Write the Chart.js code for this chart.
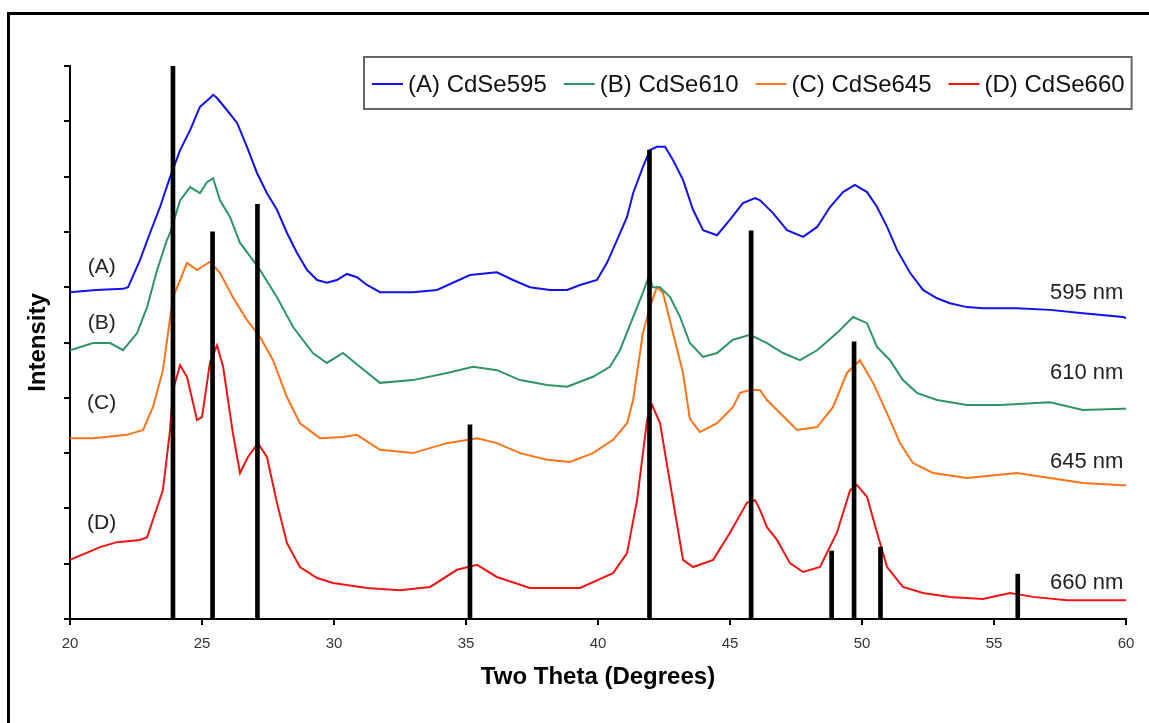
<!DOCTYPE html>
<html>
<head>
<meta charset="utf-8">
<script src="https://cdn.jsdelivr.net/npm/chart.js@4.4.1/dist/chart.umd.min.js"></script>
<style>
  html, body { margin: 0; padding: 0; background: #fff; overflow: hidden; }
  #wrap { position: relative; width: 1149px; height: 723px; }
  #frame { position: absolute; left: 7px; top: 12px; width: 2000px; height: 2000px;
           border-left: 3px solid #000; border-top: 3px solid #000; }
  #chart { position: absolute; left: 0; top: 0; }
</style>
</head>
<body>
<div id="wrap">
  <div id="frame"></div>
  <canvas id="chart" width="1149" height="723"></canvas>
</div>
<script>
/* ---------- data ---------- */
const seriesNames = ["(A) CdSe595", "(B) CdSe610", "(C) CdSe645", "(D) CdSe660"];
const curveTags = ["(A)", "(B)", "(C)", "(D)"];
const waveLabels = ["595 nm", "610 nm", "645 nm", "660 nm"];

const thetaA = [20.00, 20.98, 22.01, 22.20, 22.65, 23.03, 23.41, 23.79, 24.17, 24.55, 24.92, 25.30, 25.42, 25.57, 25.95,
  26.33, 26.70, 27.08, 27.46, 27.84, 28.22, 28.60, 28.98, 29.36, 29.73, 30.11, 30.49, 30.87, 31.25, 31.74,
  32.99, 33.90, 35.15, 36.17, 36.78, 37.42, 38.18, 38.83, 39.32, 39.96, 40.34, 40.72, 41.10, 41.33, 41.70,
  41.97, 42.23, 42.54, 42.84, 43.22, 43.60, 43.98, 44.51, 45.00, 45.49, 45.95, 46.14, 46.63, 47.16, 47.77,
  48.30, 48.79, 49.28, 49.73, 50.19, 50.57, 50.95, 51.33, 51.82, 52.31, 52.84, 53.33, 53.98, 54.58, 55.87,
  57.12, 58.37, 59.89, 60.00];
const intensityA = [5.91, 5.95, 5.97, 6.00, 6.49, 6.98, 7.45, 7.99, 8.48, 8.84, 9.26, 9.42, 9.48, 9.42, 9.20,
  8.97, 8.54, 8.07, 7.70, 7.40, 6.98, 6.62, 6.31, 6.13, 6.08, 6.13, 6.24, 6.18, 6.04, 5.91,
  5.91, 5.95, 6.22, 6.27, 6.13, 6.00, 5.95, 5.95, 6.04, 6.13, 6.44, 6.85, 7.27, 7.70, 8.17,
  8.48, 8.54, 8.54, 8.30, 7.94, 7.40, 7.03, 6.94, 7.22, 7.52, 7.61, 7.57, 7.34, 7.03, 6.91,
  7.09, 7.45, 7.72, 7.85, 7.72, 7.45, 7.09, 6.67, 6.26, 5.95, 5.80, 5.71, 5.64, 5.62, 5.62,
  5.59, 5.53, 5.46, 5.44];

const thetaB = [20.00, 20.87, 21.52, 22.01, 22.54, 22.92, 23.30, 23.67, 23.79, 24.17, 24.55, 24.92, 25.19, 25.42, 25.68,
  26.06, 26.44, 26.93, 27.20, 27.84, 28.45, 29.20, 29.73, 30.34, 30.98, 31.74, 32.99, 34.28, 35.27, 36.17,
  37.05, 38.07, 38.83, 39.81, 40.45, 40.83, 41.33, 41.70, 41.97, 42.05, 42.35, 42.73, 43.11, 43.48, 43.98,
  44.51, 45.11, 45.76, 46.40, 47.01, 47.65, 48.30, 49.05, 49.66, 50.19, 50.57, 51.06, 51.55, 52.08, 52.84,
  53.98, 55.23, 57.12, 58.37, 59.89, 60.00];
const intensityB = [4.86, 4.99, 4.99, 4.86, 5.17, 5.64, 6.31, 6.85, 6.98, 7.57, 7.81, 7.70, 7.90, 7.97, 7.57,
  7.27, 6.80, 6.49, 6.31, 5.82, 5.28, 4.81, 4.63, 4.81, 4.56, 4.27, 4.32, 4.45, 4.56, 4.50,
  4.32, 4.23, 4.20, 4.38, 4.56, 4.86, 5.46, 5.90, 6.26, 6.00, 6.00, 5.82, 5.46, 4.99, 4.74,
  4.81, 5.05, 5.14, 4.99, 4.81, 4.68, 4.86, 5.17, 5.46, 5.35, 4.92, 4.68, 4.32, 4.09, 3.96,
  3.87, 3.87, 3.92, 3.78, 3.80, 3.80];

const thetaC = [20.00, 20.87, 22.16, 22.77, 23.14, 23.52, 23.90, 24.17, 24.43, 24.81, 25.30, 25.68, 26.17, 26.70, 27.20,
  27.69, 28.22, 28.71, 29.47, 30.34, 30.87, 31.74, 32.99, 34.28, 35.42, 36.17, 37.05, 38.07, 38.94, 39.81,
  40.57, 41.10, 41.33, 41.70, 41.97, 42.23, 42.46, 42.84, 43.22, 43.48, 43.86, 44.51, 45.11, 45.38, 45.76,
  46.14, 46.40, 46.78, 47.54, 48.30, 48.90, 49.43, 49.92, 50.42, 51.06, 51.44, 51.93, 52.69, 53.98, 55.87,
  57.12, 58.37, 59.89, 60.00];
const intensityC = [3.27, 3.27, 3.33, 3.42, 3.83, 4.50, 5.82, 6.13, 6.44, 6.31, 6.46, 6.26, 5.82, 5.41, 5.10,
  4.68, 4.01, 3.54, 3.27, 3.29, 3.33, 3.06, 3.00, 3.18, 3.27, 3.18, 3.00, 2.88, 2.84, 3.00,
  3.24, 3.54, 3.96, 5.17, 5.64, 6.00, 5.90, 5.17, 4.45, 3.62, 3.38, 3.54, 3.83, 4.09, 4.14,
  4.14, 3.96, 3.78, 3.42, 3.47, 3.83, 4.45, 4.68, 4.27, 3.60, 3.18, 2.82, 2.64, 2.55, 2.64,
  2.55, 2.46, 2.42, 2.42];

const thetaD = [20.00, 21.14, 21.78, 22.65, 22.92, 23.14, 23.52, 23.79, 23.90, 24.17, 24.43, 24.81, 25.00, 25.30, 25.57,
  25.80, 26.17, 26.44, 26.74, 27.12, 27.46, 27.84, 28.22, 28.71, 29.36, 29.96, 31.25, 32.50, 33.64, 34.66,
  35.42, 36.17, 37.42, 39.32, 40.57, 41.10, 41.48, 41.86, 42.05, 42.35, 42.73, 43.22, 43.60, 44.36, 45.00,
  45.64, 45.95, 46.14, 46.40, 46.78, 47.27, 47.77, 48.41, 49.05, 49.55, 49.81, 50.19, 50.57, 50.95, 51.55,
  52.31, 53.33, 54.58, 55.61, 56.48, 57.77, 59.89, 60.00];
const intensityD = [1.07, 1.30, 1.39, 1.43, 1.48, 1.79, 2.33, 3.42, 4.14, 4.59, 4.38, 3.60, 3.65, 4.63, 4.95,
  4.56, 3.36, 2.64, 2.93, 3.18, 2.93, 2.10, 1.37, 0.94, 0.74, 0.65, 0.56, 0.52, 0.58, 0.89,
  0.98, 0.76, 0.56, 0.56, 0.83, 1.19, 2.15, 3.60, 3.87, 3.54, 2.46, 1.07, 0.94, 1.07, 1.56,
  2.10, 2.15, 1.97, 1.66, 1.43, 1.01, 0.85, 0.94, 1.56, 2.33, 2.42, 2.21, 1.56, 0.94, 0.58,
  0.47, 0.40, 0.36, 0.47, 0.40, 0.34, 0.34, 0.34];

// reference stick pattern
const stickTheta = [23.9, 25.4, 27.1, 35.15, 41.95, 45.8, 48.85, 49.7, 50.7, 55.9];
const stickHeight = [10, 7.0, 7.5, 3.51, 8.48, 7.02, 1.23, 5.01, 1.3, 0.81];

const xTicks = [20, 25, 30, 35, 40, 45, 50, 55, 60];

/* ---------- build ---------- */
const colors = ["#1010f0", "#2e9466", "#ff7418", "#f01414"];
const thetas = [thetaA, thetaB, thetaC, thetaD];
const intensities = [intensityA, intensityB, intensityC, intensityD];

function toPoints(xs, ys) {
    return xs.map((x, i) => ({ x: x, y: ys[i] }));
}

const datasets = seriesNames.map((name, i) => ({
    type: "line",
    label: name,
    data: toPoints(thetas[i], intensities[i]),
    borderColor: colors[i],
    borderWidth: 2,
    pointRadius: 0,
    tension: 0,
    fill: false,
    order: 2
}));

datasets.push({
    type: "bar",
    label: "sticks",
    data: toPoints(stickTheta, stickHeight),
    backgroundColor: "#000",
    barThickness: 4,
    order: 1
});

const FONT = "'Liberation Sans', Arial, sans-serif";

// legend box + curve labels drawn on the canvas
const decorations = {
    id: "decorations",
    afterDraw(chart) {
        const ctx = chart.ctx;
        const xs = chart.scales.x, ys = chart.scales.y;
        ctx.save();

        // legend
        ctx.font = "24px " + FONT;
        ctx.textBaseline = "middle";
        ctx.textAlign = "left";
        let x = 372;
        let textEnd = x;
        const yMid = 84;
        seriesNames.forEach((name, i) => {
            ctx.strokeStyle = colors[i];
            ctx.lineWidth = 2;
            ctx.beginPath();
            ctx.moveTo(x, yMid);
            ctx.lineTo(x + 31, yMid);
            ctx.stroke();
            ctx.fillStyle = "#111";
            ctx.fillText(name, x + 36, yMid + 1);
            textEnd = x + 36 + ctx.measureText(name).width;
            x = textEnd + 17;
        });
        ctx.strokeStyle = "#666";
        ctx.lineWidth = 2;
        ctx.strokeRect(364, 57, textEnd + 7 - 364, 52);

        // curve tags on the left
        const tagPos = [6.37, 5.35, 3.91, 1.74];
        ctx.font = "21px " + FONT;
        ctx.fillStyle = "#222";
        ctx.textAlign = "center";
        curveTags.forEach((t, i) => {
            ctx.fillText(t, xs.getPixelForValue(21.2), ys.getPixelForValue(tagPos[i]));
        });

        // wavelength labels on the right
        const wavePos = [5.9, 4.45, 2.84, 0.65];
        ctx.font = "22px " + FONT;
        ctx.textAlign = "right";
        waveLabels.forEach((t, i) => {
            ctx.fillText(t, xs.getPixelForValue(59.9), ys.getPixelForValue(wavePos[i]));
        });
        ctx.restore();
    }
};

new Chart(document.getElementById("chart"), {
    type: "line",
    data: { datasets: datasets },
    options: {
        responsive: false,
        animation: false,
        layout: { padding: { left: 0, right: 23, top: 66, bottom: 0 } },
        plugins: {
            legend: { display: false },
            tooltip: { enabled: false }
        },
        scales: {
            x: {
                type: "linear",
                min: 20,
                max: 60,
                offset: false,
                afterBuildTicks(scale) {
                    scale.ticks = xTicks.map(v => ({ value: v }));
                },
                afterFit(scale) { scale.height = 104; },
                ticks: {
                    font: { size: 15, family: FONT },
                    color: "#333",
                    padding: 10,
                    maxRotation: 0
                },
                grid: {
                    drawOnChartArea: false,
                    drawTicks: true,
                    tickLength: 6,
                    color: "#000",
                    lineWidth: 2,
                    offset: false
                },
                border: { display: true, color: "#000", width: 2 },
                title: {
                    display: true,
                    text: "Two Theta (Degrees)",
                    font: { size: 24, weight: "bold", family: FONT },
                    color: "#000",
                    padding: { top: 31, bottom: 31 }
                }
            },
            y: {
                type: "linear",
                min: 0,
                max: 10,
                afterFit(scale) { scale.width = 70; },
                ticks: { stepSize: 1, display: false },
                grid: {
                    drawOnChartArea: false,
                    drawTicks: true,
                    tickLength: 6,
                    color: "#000",
                    lineWidth: 2
                },
                border: { display: true, color: "#000", width: 2 },
                title: {
                    display: true,
                    text: "Intensity",
                    font: { size: 24, weight: "bold", family: FONT },
                    color: "#000",
                    padding: { top: 24, bottom: 24 }
                }
            }
        }
    },
    plugins: [decorations]
});
</script>
</body>
</html>
